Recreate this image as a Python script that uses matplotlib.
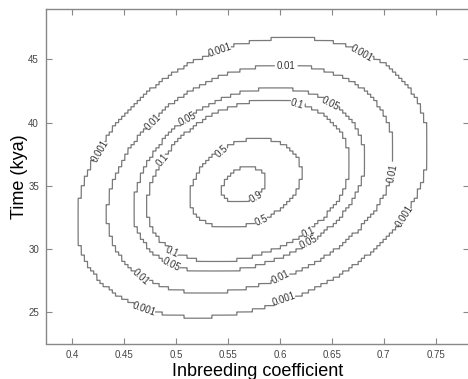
import numpy as np
import matplotlib
matplotlib.use("Agg")
import matplotlib.pyplot as plt

plt.rcParams['font.family'] = ['Liberation Sans', 'DejaVu Sans']

# contour levels (relative likelihood)
levels = [0.001, 0.01, 0.05, 0.1, 0.5, 0.9]

# likelihood surface: peak, spread either side, correlation
peak_f, peak_t = 0.564, 35.0
sd_f_left, sd_f_right = 0.043, 0.048
sd_t_below, sd_t_above = 2.8, 3.15
corr = 0.27

# grid the surface was evaluated on
f_step, t_step = 0.003, 0.25
f_start, f_stop = 0.3755, 0.782
t_start, t_stop = 22.5, 49.0

x_ticks = [0.4, 0.45, 0.5, 0.55, 0.6, 0.65, 0.7, 0.75]
x_ticklabels = ['0.4', '0.45', '0.5', '0.55', '0.6', '0.65', '0.7', '0.75']
y_ticks = [25, 30, 35, 40, 45]

# where the contour labels sit, per level
label_pos = {
    0.001: [(0.542, 45.7), (0.677, 45.1), (0.428, 37.65), (0.469, 24.9), (0.604, 26.1), (0.720, 32.55)],
    0.01: [(0.479, 39.9), (0.606, 44.05), (0.710, 36.0), (0.466, 27.5), (0.601, 27.8)],
    0.05: [(0.513, 40.0), (0.643, 41.2), (0.495, 28.25), (0.628, 30.5)],
    0.1: [(0.487, 37.0), (0.616, 40.7), (0.496, 29.4), (0.628, 31.3)],
    0.5: [(0.545, 37.6), (0.582, 32.1)],
    0.9: [(0.577, 34.1)],
}

# build the gridded surface (cell centres)
f_edges = np.arange(f_start, f_stop + f_step, f_step)
t_edges = np.arange(t_start, t_stop + t_step, t_step)
fc = 0.5 * (f_edges[:-1] + f_edges[1:])
tc = 0.5 * (t_edges[:-1] + t_edges[1:])
F, T = np.meshgrid(fc, tc)
u = np.where(F < peak_f, (F - peak_f) / sd_f_left, (F - peak_f) / sd_f_right)
v = np.where(T < peak_t, (T - peak_t) / sd_t_below, (T - peak_t) / sd_t_above)
Z = np.exp(-0.5 * (u**2 - 2 * corr * u * v + v**2) / (1 - corr**2))
Z = Z / Z.max()

# blocky cells like the original: duplicate every cell at its two edges
eps_f, eps_t = f_step * 0.02, t_step * 0.02
xs = np.column_stack([f_edges[:-1] + eps_f, f_edges[1:] - eps_f]).ravel()
ys = np.column_stack([t_edges[:-1] + eps_t, t_edges[1:] - eps_t]).ravel()
Z2 = np.repeat(np.repeat(Z, 2, axis=0), 2, axis=1)

fig = plt.figure(figsize=(4.68, 3.79), dpi=100)
ax = fig.add_axes([46 / 468, 35.5 / 379, 422.5 / 468, 334.5 / 379])

# one contour set per level so every label lands on its own line
for lev in levels:
    cs = ax.contour(xs, ys, Z2, levels=[lev], colors='#7a7a7a', linewidths=0.9)
    cs.clabel(manual=label_pos[lev], inline=True, inline_spacing=2,
              fontsize=7, fmt='%g', colors='#333333')

ax.set_xlim(0.3745, 0.7818)
ax.set_ylim(22.5, 49.0)
ax.set_xticks(x_ticks)
ax.set_xticklabels(x_ticklabels)
ax.set_yticks(y_ticks)
ax.tick_params(direction='in', top=True, right=True, length=4, width=0.8,
               color='#888888', labelsize=7, labelcolor='#444444', pad=5)
for s in ax.spines.values():
    s.set_color('#888888')
    s.set_linewidth(1.0)

ax.set_xlabel('Inbreeding coefficient', fontsize=13, labelpad=2)
ax.set_ylabel('Time (kya)', fontsize=13, labelpad=0)

fig.savefig('out.png', dpi=100)
